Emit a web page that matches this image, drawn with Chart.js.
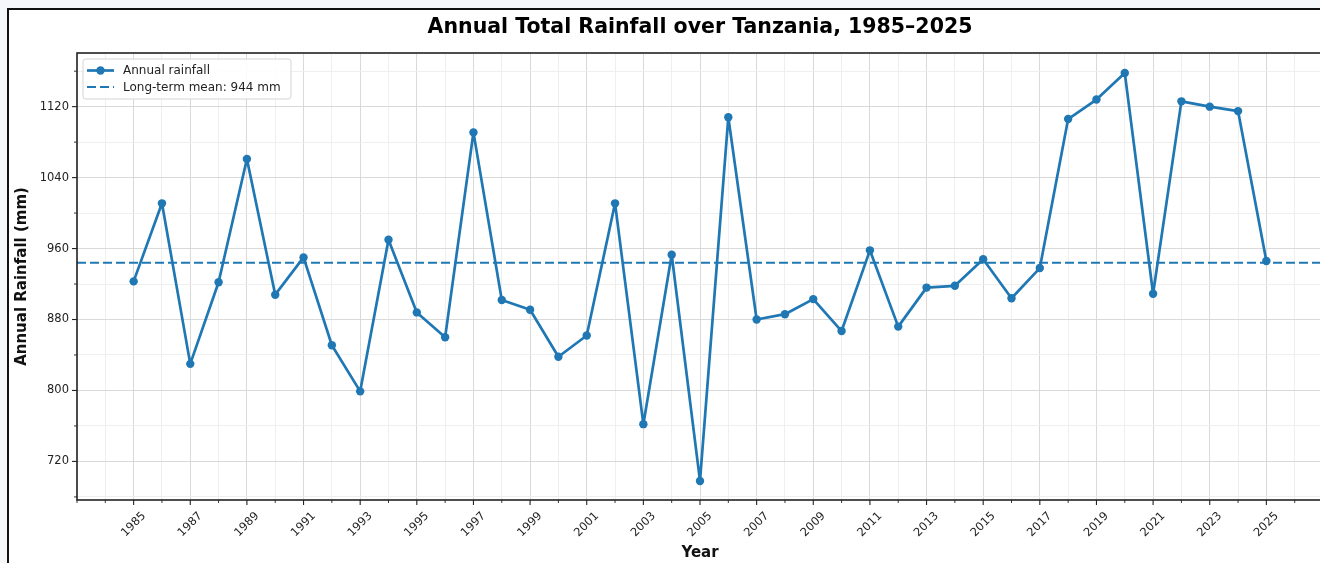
<!DOCTYPE html>
<html>
<head>
<meta charset="utf-8">
<title>Annual Total Rainfall over Tanzania, 1985–2025</title>
<script src="https://cdn.jsdelivr.net/npm/chart.js@4.4.1/dist/chart.umd.min.js"></script>
<style>
  html, body { margin: 0; padding: 0; width: 1320px; height: 563px; overflow: hidden; background: #f5f7fb; }
  #panel { position: absolute; left: 7px; top: 8px; width: 2000px; height: 2000px; border: 2px solid #111; background: #ffffff; }
  #chart { position: absolute; left: 0; top: 0; }
</style>
</head>
<body>
<div id="panel"></div>
<canvas id="chart" width="1400" height="563"></canvas>
<script>
// Years of record
const years = [
  1985, 1986, 1987, 1988, 1989, 1990, 1991, 1992, 1993, 1994,
  1995, 1996, 1997, 1998, 1999, 2000, 2001, 2002, 2003, 2004,
  2005, 2006, 2007, 2008, 2009, 2010, 2011, 2012, 2013, 2014,
  2015, 2016, 2017, 2018, 2019, 2020, 2021, 2022, 2023, 2024, 2025
];

// Annual total rainfall (mm)
const rainfall = [
  923, 1011, 830, 922, 1061, 908, 950, 851, 799, 970,
  888, 860, 1091, 902, 891, 838, 862, 1011, 762, 953,
  698, 1108, 880, 886, 903, 867, 958, 872, 916, 918,
  948, 904, 938, 1106, 1128, 1158, 909, 1126, 1120, 1115, 946
];

// Long-term mean (mm)
const longTermMean = 944;

// Axis ticks
const xTickLabels = ['1985', '1987', '1989', '1991', '1993', '1995', '1997', '1999', '2001', '2003', '2005',
                     '2007', '2009', '2011', '2013', '2015', '2017', '2019', '2021', '2023', '2025'];
const xMinorTicks = [1983, 1984, 1986, 1988, 1990, 1992, 1994, 1996, 1998, 2000, 2002, 2004, 2006,
                     2008, 2010, 2012, 2014, 2016, 2018, 2020, 2022, 2024, 2026, 2027];
const yTickLabels = ['720', '800', '880', '960', '1040', '1120'];
const yMinorTicks = [680, 760, 840, 920, 1000, 1080, 1160];

const xMajorTicks = xTickLabels.map(Number);
const yMajorTicks = yTickLabels.map(Number);

const BLUE = '#1f77b4';
const GRID_MAJOR = '#d9d9d9';
const GRID_MINOR = '#efefef';
const AXIS_COLOR = '#222222';
const FONT = 'DejaVu Sans';

Chart.defaults.font.family = FONT;

// Tick marks outside the axes, the full axes frame, rotated year labels and the legend box
const axesDecor = {
  id: 'axesDecor',
  afterDatasetsDraw(chart) {
    const { ctx, chartArea: a, scales: { x, y } } = chart;
    ctx.save();

    // tick marks
    ctx.strokeStyle = AXIS_COLOR;
    const tick = (x1, y1, x2, y2, w) => {
      ctx.lineWidth = w;
      ctx.beginPath(); ctx.moveTo(x1, y1); ctx.lineTo(x2, y2); ctx.stroke();
    };
    xMajorTicks.forEach(v => { const px = x.getPixelForValue(v); tick(px, a.bottom, px, a.bottom + 5, 1.1); });
    xMinorTicks.forEach(v => { const px = x.getPixelForValue(v); tick(px, a.bottom, px, a.bottom + 3, 0.9); });
    yMajorTicks.forEach(v => { const py = y.getPixelForValue(v); tick(a.left, py, a.left - 5, py, 1.1); });
    yMinorTicks.forEach(v => { const py = y.getPixelForValue(v); tick(a.left, py, a.left - 3, py, 0.9); });

    // frame
    ctx.lineWidth = 1.6;
    ctx.strokeStyle = AXIS_COLOR;
    ctx.strokeRect(a.left, a.top, a.right - a.left, a.bottom - a.top);

    // year labels, rotated 45 degrees and centred under each tick
    ctx.fillStyle = '#222222';
    ctx.font = '11.5px "' + FONT + '"';
    ctx.textAlign = 'center';
    ctx.textBaseline = 'middle';
    xTickLabels.forEach(lbl => {
      const px = x.getPixelForValue(Number(lbl));
      ctx.save();
      ctx.translate(px, a.bottom + 24.5);
      ctx.rotate(-Math.PI / 4);
      ctx.fillText(lbl, 0, 0);
      ctx.restore();
    });

    // legend
    const lx = a.left + 6, ly = a.top + 6, lw = 208, lh = 40;
    ctx.beginPath();
    ctx.roundRect(lx, ly, lw, lh, 3);
    ctx.fillStyle = 'rgba(255,255,255,0.85)';
    ctx.fill();
    ctx.lineWidth = 1;
    ctx.strokeStyle = '#d4d4d4';
    ctx.stroke();

    const rows = chart.data.datasets;
    ctx.font = '12px "' + FONT + '"';
    ctx.textAlign = 'left';
    ctx.textBaseline = 'middle';
    rows.forEach((ds, i) => {
      const cy = ly + 11.5 + i * 16.6;
      ctx.strokeStyle = ds.borderColor;
      ctx.lineWidth = ds.borderWidth;
      ctx.setLineDash(ds.borderDash || []);
      ctx.beginPath(); ctx.moveTo(lx + 4, cy); ctx.lineTo(lx + 31, cy); ctx.stroke();
      ctx.setLineDash([]);
      if (ds.pointRadius > 0) {
        ctx.fillStyle = ds.borderColor;
        ctx.beginPath(); ctx.arc(lx + 17.5, cy, ds.pointRadius, 0, Math.PI * 2); ctx.fill();
      }
      ctx.fillStyle = '#222222';
      ctx.fillText(ds.label, lx + 40, cy + 0.5);
    });

    ctx.restore();
  }
};

new Chart(document.getElementById('chart'), {
  type: 'line',
  data: {
    datasets: [
      {
        label: 'Annual rainfall',
        data: years.map((yr, i) => ({ x: yr, y: rainfall[i] })),
        borderColor: BLUE,
        backgroundColor: BLUE,
        borderWidth: 2.7,
        borderJoinStyle: 'round',
        borderCapStyle: 'round',
        pointRadius: 4.2,
        pointHoverRadius: 4.2,
        pointBackgroundColor: BLUE,
        pointBorderWidth: 0,
        tension: 0,
        order: 1
      },
      {
        label: 'Long-term mean: ' + longTermMean + ' mm',
        data: [{ x: 1983, y: longTermMean }, { x: 2027, y: longTermMean }],
        borderColor: BLUE,
        borderWidth: 2,
        borderDash: [9, 4],
        pointRadius: 0,
        tension: 0,
        order: 2
      }
    ]
  },
  options: {
    responsive: false,
    animation: false,
    events: [],
    layout: { padding: { left: 0, right: 77, top: 0, bottom: 0 } },
    plugins: {
      legend: { display: false },
      tooltip: { enabled: false },
      title: {
        display: true,
        fullSize: false,
        text: 'Annual Total Rainfall over Tanzania, 1985–2025',
        color: '#000000',
        font: { family: FONT, size: 20.5, weight: 'bold', lineHeight: 1.2 },
        padding: { top: 15.5, bottom: 12.9 }
      }
    },
    scales: {
      x: {
        type: 'linear',
        min: 1983,
        max: 2027,
        afterBuildTicks: s => {
          s.ticks = [...xMajorTicks, ...xMinorTicks].sort((p, q) => p - q).map(v => ({ value: v }));
        },
        afterFit: s => { s.height = 63; },
        ticks: { display: false },
        grid: {
          drawTicks: false,
          lineWidth: 1,
          color: c => (c.tick && xMajorTicks.includes(c.tick.value)) ? GRID_MAJOR : GRID_MINOR
        },
        border: { display: false },
        title: {
          display: true,
          text: 'Year',
          color: '#111111',
          font: { family: FONT, size: 15, weight: 'bold', lineHeight: 1.2 },
          padding: { top: 0, bottom: 1 }
        }
      },
      y: {
        type: 'linear',
        min: 676.5,
        max: 1180.5,
        afterBuildTicks: s => {
          s.ticks = [...yMajorTicks, ...yMinorTicks].sort((p, q) => p - q).map(v => ({ value: v }));
        },
        afterFit: s => { s.width = 77; },
        ticks: {
          color: '#222222',
          font: { family: FONT, size: 11.5 },
          padding: 8,
          callback: v => yTickLabels.includes(String(v)) ? String(v) : ''
        },
        grid: {
          drawTicks: false,
          lineWidth: 1,
          color: c => (c.tick && yMajorTicks.includes(c.tick.value)) ? GRID_MAJOR : GRID_MINOR
        },
        border: { display: false },
        title: {
          display: true,
          text: 'Annual Rainfall (mm)',
          color: '#111111',
          font: { family: FONT, size: 15, weight: 'bold', lineHeight: 1.2 },
          padding: { top: 13, bottom: 0 }
        }
      }
    }
  },
  plugins: [axesDecor]
});
</script>
</body>
</html>
